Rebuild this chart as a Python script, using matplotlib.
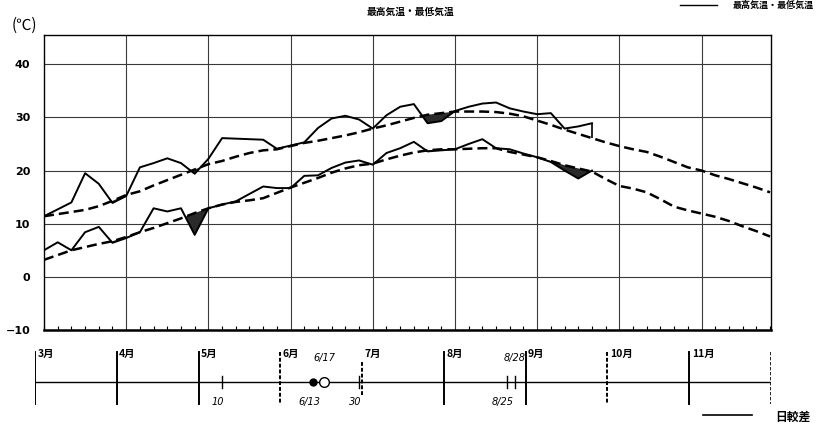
import matplotlib

matplotlib.use("Agg")
import matplotlib.pyplot as plt
import numpy as np
from matplotlib.lines import Line2D

plt.rcParams["font.family"] = ["Noto Sans CJK JP", "DejaVu Sans"]

# pentad index (0 = first pentad of March)
max_obs = [11.4, 12.7, 14.0, 19.5, 17.5, 13.9, 15.2, 20.6, 21.4, 22.3,
           21.4, 19.4, 22.2, 26.1, 26.0, 25.9, 25.8, 24.1, 24.7, 25.3,
           28.0, 29.8, 30.3, 29.6, 27.9, 30.4, 32.0, 32.5, 28.9, 29.3,
           31.2, 32.0, 32.6, 32.8, 31.7, 31.1, 30.6, 30.8, 27.9, 28.3,
           28.9]
min_obs = [5.0, 6.5, 5.0, 8.4, 9.4, 6.4, 7.3, 8.4, 12.9, 12.3,
           12.9, 7.9, 12.9, 13.6, 14.2, 15.6, 17.0, 16.7, 16.7, 19.0,
           19.1, 20.5, 21.5, 21.9, 21.1, 23.3, 24.2, 25.4, 23.6, 23.8,
           24.0, 25.0, 25.9, 24.2, 24.0, 23.2, 22.5, 21.6, 20.0, 18.5,
           20.0]
max_normal = [11.4, 11.8, 12.2, 12.6, 13.3, 14.3, 15.4, 16.1, 17.2, 18.2,
              19.2, 20.2, 21.2, 21.8, 22.6, 23.3, 23.8, 24.0, 24.6, 25.2,
              25.6, 26.1, 26.6, 27.2, 27.9, 28.5, 29.2, 29.9, 30.5, 30.8,
              31.1, 31.1, 31.1, 31.0, 30.7, 30.2, 29.4, 28.6, 27.7, 26.9,
              26.1, 25.3, 24.6, 24.0, 23.5, 22.6, 21.6, 20.6, 20.0, 19.1,
              18.4, 17.6, 16.8, 15.9]
min_normal = [3.2, 4.1, 5.0, 5.6, 6.2, 6.7, 7.5, 8.4, 9.2, 10.1,
              11.0, 12.0, 12.9, 13.6, 14.1, 14.4, 14.8, 15.8, 16.8, 17.7,
              18.6, 19.6, 20.4, 21.0, 21.3, 22.1, 22.8, 23.4, 23.8, 24.0,
              24.0, 24.1, 24.2, 24.2, 23.5, 23.0, 22.5, 21.8, 21.0, 20.4,
              19.8, 18.4, 17.1, 16.6, 15.9, 14.6, 13.2, 12.5, 11.9, 11.3,
              10.5, 9.5, 8.6, 7.6]

yticks = [-10, 0, 10, 20, 30, 40]
months = ["3月", "4月", "5月", "6月", "7月", "8月", "9月", "10月", "11月"]
month_days = [31, 30, 31, 30, 31, 31, 30, 31, 30]
dashed_months = ["6月", "7月", "10月"]

# (month, day, marker, label, label above?)
events = [
    (5, 10, "|", "10", False),
    (6, 13, "o", "6/13", False),
    (6, 17, "open", "6/17", True),
    (6, 30, "|", "30", False),
    (8, 25, "|", "8/25", False),
    (8, 28, "|", "8/28", True),
]

W, H = 818, 429
fig = plt.figure(figsize=(W / 100, H / 100), dpi=100)
fig.patch.set_facecolor("white")

ax = fig.add_axes([44 / W, 1 - 330 / H, 727 / W, 295 / H])
x_obs = np.arange(len(max_obs))
x_norm = np.arange(len(max_normal))
mx_obs = np.array(max_obs)
mn_obs = np.array(min_obs)
mx_nrm = np.array(max_normal)[: len(max_obs)]
mn_nrm = np.array(min_normal)[: len(min_obs)]

ax.fill_between(x_obs, mx_obs, mx_nrm, where=mx_obs < mx_nrm,
                interpolate=True, color="#2a2a2a", lw=0, zorder=2)
ax.fill_between(x_obs, mn_obs, mn_nrm, where=mn_obs < mn_nrm,
                interpolate=True, color="#2a2a2a", lw=0, zorder=2)

ax.plot(x_norm, max_normal, color="black", lw=1.8, dashes=(4, 2), zorder=3)
ax.plot(x_norm, min_normal, color="black", lw=1.8, dashes=(4, 2), zorder=3)
ax.plot(x_obs, max_obs, color="black", lw=1.4, zorder=4)
ax.plot(x_obs, min_obs, color="black", lw=1.4, zorder=4)
ax.vlines(x_obs[-1], mx_nrm[-1], mx_obs[-1], color="black", lw=1.2, zorder=4)
ax.vlines(x_obs[-1], mn_nrm[-1], mn_obs[-1], color="black", lw=1.2, zorder=4)

ax.set_xlim(0, 53.07)
ax.set_ylim(-9.9, 45.5)
ax.set_yticks(yticks)
ax.set_yticklabels([str(v).replace("-", "\u2212") for v in yticks],
                   fontsize=8, fontweight="bold", family="DejaVu Sans")
ax.set_xticks(np.arange(6, 53, 6))
ax.set_xticks(np.arange(0, 54), minor=True)
ax.set_xticklabels([])
ax.tick_params(axis="x", which="major", length=0)
ax.tick_params(axis="x", which="minor", direction="in", length=3, width=0.8)
ax.tick_params(axis="y", length=0, pad=10)
ax.grid(True, color="#3a3a3a", lw=0.8, zorder=1)
for side in ["left", "right", "top"]:
    ax.spines[side].set_linewidth(1.0)
ax.spines["bottom"].set_linewidth(1.8)

fig.text(410 / W, 1 - 12 / H, "最高気温・最低気温", ha="center", va="center",
         fontsize=7, fontweight="bold")
fig.text(12 / W, 1 - 25 / H, "(℃)", ha="left", va="center", fontsize=11)

# top-right legend
fig.add_artist(Line2D([680 / W, 717 / W], [1 - 5 / H, 1 - 5 / H],
                      color="black", lw=1.0))
fig.text(733 / W, 1 - 1 / H, "最高気温・最低気温", ha="left", va="top",
         fontsize=6.5, fontweight="bold")

# bottom timeline
tl = fig.add_axes([35 / W, 0, 736 / W, 91 / H])
tl.set_xlim(0, len(months))
tl.set_ylim(429, 338)
tl.axis("off")
tl.plot([0, len(months)], [382, 382], color="black", lw=1.0)
for i, name in enumerate(months):
    ls = (0, (2, 1)) if name in dashed_months else "-"
    top, bot = (362, 395) if name == "7月" else (352, 404)
    tl.plot([i, i], [top, bot], color="black", lw=1.4, ls=ls)
    tl.text(i + 0.03, 349, name, ha="left", va="top", fontsize=7.5,
            fontweight="bold")
tl.plot([len(months)] * 2, [352, 404], color="black", lw=1.2, ls=(0, (2, 1)))

for m, d, mk, lab, above in events:
    pos = (m - 3) + (d - 1) / month_days[m - 3]
    if mk == "o":
        tl.plot(pos, 382, "o", ms=5, color="black")
    elif mk == "open":
        tl.plot(pos, 382, "o", ms=7, mfc="white", mec="black", mew=1.0)
    else:
        tl.plot([pos, pos], [376, 388], color="black", lw=1.0)
    if above:
        tl.text(pos, 358, lab, ha="center", va="center", fontsize=7,
                style="italic", family="DejaVu Sans")
    else:
        tl.text(pos - 0.05, 402, lab, ha="center", va="center", fontsize=7,
                style="italic", family="DejaVu Sans")

# bottom-right legend
fig.add_artist(Line2D([703 / W, 752 / W], [1 - 415 / H, 1 - 415 / H],
                      color="black", lw=1.2))
fig.text(775 / W, 1 - 417 / H, "日較差", ha="left", va="center", fontsize=8.5,
         fontweight="bold")

fig.savefig("out.png", dpi=100)
